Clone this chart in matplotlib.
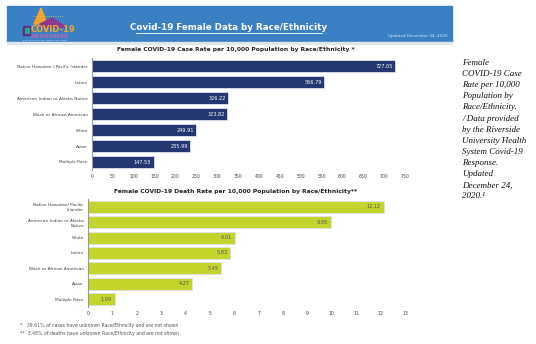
import matplotlib.pyplot as plt
from matplotlib.patches import Rectangle, Polygon

# Female case and death rates per 10,000 population
case_groups = ['Native Hawaiian / Pacific Islander', 'Latinx', 'American Indian or Alaska Native',
               'Black or African American', 'White', 'Asian', 'Multiple Race']
case_rates = [727.05, 556.79, 326.22, 323.82, 249.91, 235.99, 147.53]
case_ticks = [0, 50, 100, 150, 200, 250, 300, 350, 400, 450, 500, 550, 600, 650, 700, 750]

death_groups = ['Native Hawaiian/ Pacific\nIslander', 'American Indian or Alaska\nNative', 'White',
                'Latino', 'Black or African American', 'Asian', 'Multiple Race']
death_rates = [12.12, 9.95, 6.01, 5.83, 5.45, 4.27, 1.09]
death_ticks = list(range(0, 14))

W, H = 536, 344
fig = plt.figure(figsize=(W / 100, H / 100), dpi=100)
fig.patch.set_facecolor('white')


def px(x0, y0, x1, y1):
    # pixel box -> figure fraction rect
    return [x0 / W, 1 - y1 / H, (x1 - x0) / W, (y1 - y0) / H]


# header banner
bg = fig.add_axes([0, 0, 1, 1])
bg.set_xlim(0, W)
bg.set_ylim(H, 0)
bg.axis('off')
bg.add_patch(Rectangle((7, 6), 445, 36, color='#3b80c3'))
bg.add_patch(Rectangle((7, 42), 445, 1.5, color='#dfe6ee'))

# small logo
bg.add_patch(Polygon([(34, 24), (41, 8), (47, 24)], color='#f4a32a'))
bg.add_patch(Polygon([(40, 24), (52, 18), (66, 27), (40, 27)], color='#8a3b8f'))
bg.plot([33, 64], [15.5, 15.5], color='#c8d94a', lw=0.6, ls=':')
bg.add_patch(Rectangle((23, 26), 7, 9, color='#5b2c82'))
bg.add_patch(Rectangle((25, 28), 4, 5, color='#2f9e8f'))
bg.text(31, 30, 'COVID-19', color='#f4a32a', fontsize=6, fontweight='bold', va='center')
bg.text(30, 36, 'RESPONSE', color='#b06ab5', fontsize=4.6, fontweight='bold', va='center')
bg.text(23, 40.3, 'Riverside University Health System - Public Health', color='#e8e8f0',
        fontsize=1.3, va='center')

bg.text(229, 28, 'Covid-19 Female Data by Race/Ethnicity', color='white', fontsize=6.3,
        fontweight='bold', ha='center', va='center')
bg.plot([136, 322], [33.2, 33.2], color='white', lw=0.6)
bg.text(448, 36, 'Updated December 24, 2020', color='#d8e6f5', fontsize=3, ha='right', va='center')

# chart titles and footnotes
bg.text(236, 50, 'Female COVID-19 Case Rate per 10,000 Population by Race/Ethnicity *',
        fontsize=4.3, fontweight='bold', ha='center', va='center', color='#222222')
bg.text(236, 192, 'Female COVID-19 Death Rate per 10,000 Population by Race/Ethnicity**',
        fontsize=4.3, fontweight='bold', ha='center', va='center', color='#222222')
bg.text(20, 325, '*   39.61% of cases have unknown Race/Ethnicity and are not shown',
        fontsize=3.3, va='center', color='#555555')
bg.text(20, 333, '**  3.48% of deaths have unknown Race/Ethnicity and are not shown',
        fontsize=3.3, va='center', color='#555555')

# side note
note = ('Female\nCOVID-19 Case\nRate per 10,000\nPopulation by\nRace/Ethnicity.\n/ Data provided\n'
        'by the Riverside\nUniversity Health\nSystem Covid-19\nResponse.\nUpdated\nDecember 24,\n2020.¹')
bg.text(462, 59, note, family='Liberation Serif', style='italic', fontsize=6.5,
        va='top', ha='left', linespacing=1.52, color='#111111')


def bar_panel(rect, groups, values, ticks, color, label_color, fmt):
    ax = fig.add_axes(rect)
    y = range(len(groups))
    ax.barh(y, values, height=0.78, color=color, edgecolor='#dfe3ec', linewidth=0.6)
    ax.set_ylim(len(groups) - 0.5, -0.5)
    ax.set_xlim(ticks[0], ticks[-1])
    ax.set_xticks(ticks)
    ax.set_xticklabels([str(t) for t in ticks], fontsize=3.3, color='#444444')
    ax.set_yticks(list(y))
    ax.set_yticklabels(groups, fontsize=3.1, color='#444444', linespacing=1.4)
    ax.tick_params(length=0, pad=3)
    for s in ['top', 'right', 'bottom']:
        ax.spines[s].set_visible(False)
    ax.spines['left'].set_color('#9a9a9a')
    ax.spines['left'].set_linewidth(0.8)
    for i, v in enumerate(values):
        ax.text(v - ticks[-1] * 0.008, i, fmt(v), ha='right', va='center', fontsize=3.6,
                color=label_color)
    return ax


bar_panel(px(92, 58, 405, 170), case_groups, case_rates, case_ticks,
          '#253670', 'white', lambda v: f'{v:.2f}')
bar_panel(px(88, 199, 405, 307), death_groups, death_rates, death_ticks,
          '#c3d52d', '#555555', lambda v: f'{v:.2f}')

fig.savefig('out.png', dpi=100)
